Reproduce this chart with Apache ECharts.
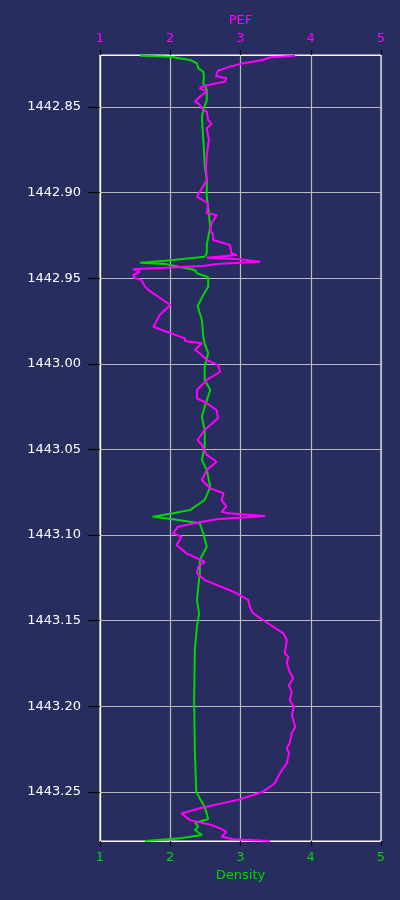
<!DOCTYPE html>
<html>
<head>
<meta charset="utf-8">
<script src="https://cdn.jsdelivr.net/npm/echarts@6/dist/echarts.min.js"></script>
<style>
html, body { margin: 0; padding: 0; background: #272d5e; }
#chart { width: 400px; height: 900px; }
</style>
</head>
<body>
<div id="chart"></div>
<script>
// PEF curve (top axis)
const depthPef = [
    1442.8200, 1442.8209, 1442.8225, 1442.8244, 1442.8264, 1442.8288, 1442.8319, 1442.8332,
    1442.8352, 1442.8365, 1442.8381, 1442.8391, 1442.8410, 1442.8440, 1442.8469, 1442.8478,
    1442.8517, 1442.8527, 1442.8576, 1442.8599, 1442.8624, 1442.8692, 1442.8780, 1442.8856,
    1442.8926, 1442.9024, 1442.9062, 1442.9121, 1442.9131, 1442.9179, 1442.9218, 1442.9247,
    1442.9277, 1442.9306, 1442.9354, 1442.9364, 1442.9380, 1442.9389, 1442.9403, 1442.9417,
    1442.9428, 1442.9448, 1442.9462, 1442.9481, 1442.9500, 1442.9510, 1442.9549, 1442.9569,
    1442.9608, 1442.9656, 1442.9715, 1442.9783, 1442.9802, 1442.9851, 1442.9867, 1442.9880,
    1442.9919, 1442.9938, 1442.9978, 1443.0007, 1443.0046, 1443.0094, 1443.0153, 1443.0201,
    1443.0230, 1443.0270, 1443.0318, 1443.0386, 1443.0445, 1443.0474, 1443.0532, 1443.0572,
    1443.0620, 1443.0678, 1443.0727, 1443.0756, 1443.0795, 1443.0834, 1443.0864, 1443.0873,
    1443.0889, 1443.0908, 1443.0928, 1443.0951, 1443.0990, 1443.1010, 1443.1058, 1443.1107,
    1443.1156, 1443.1185, 1443.1223, 1443.1263, 1443.1331, 1443.1379, 1443.1428, 1443.1457,
    1443.1496, 1443.1574, 1443.1613, 1443.1689, 1443.1712, 1443.1747, 1443.1800, 1443.1837,
    1443.1876, 1443.1917, 1443.1963, 1443.2004, 1443.2051, 1443.2121, 1443.2156, 1443.2215,
    1443.2244, 1443.2275, 1443.2333, 1443.2361, 1443.2392, 1443.2450, 1443.2499, 1443.2544,
    1443.2596, 1443.2626, 1443.2665, 1443.2694, 1443.2713, 1443.2733, 1443.2762, 1443.2777,
    1443.2787
];
const pef = [
    3.78, 3.42, 3.32, 3.04, 2.85, 2.68, 2.65, 2.80,
    2.78, 2.61, 2.45, 2.42, 2.52, 2.42, 2.35, 2.40,
    2.47, 2.52, 2.54, 2.59, 2.52, 2.55, 2.52, 2.51,
    2.52, 2.38, 2.54, 2.52, 2.66, 2.59, 2.57, 2.61,
    2.61, 2.85, 2.87, 2.95, 2.52, 2.99, 3.28, 2.66,
    2.47, 1.47, 1.57, 1.47, 1.50, 1.59, 1.64, 1.69,
    1.83, 2.00, 1.85, 1.76, 1.88, 2.21, 2.21, 2.45,
    2.35, 2.42, 2.52, 2.68, 2.71, 2.52, 2.38, 2.38,
    2.52, 2.66, 2.68, 2.49, 2.39, 2.45, 2.52, 2.66,
    2.52, 2.45, 2.57, 2.76, 2.73, 2.80, 2.73, 2.83,
    3.35, 2.66, 2.38, 2.11, 2.04, 2.16, 2.09, 2.23,
    2.49, 2.40, 2.38, 2.49, 2.90, 3.11, 3.14, 3.18,
    3.32, 3.61, 3.66, 3.63, 3.68, 3.66, 3.70, 3.75,
    3.69, 3.73, 3.70, 3.76, 3.73, 3.78, 3.73, 3.70,
    3.66, 3.69, 3.66, 3.61, 3.56, 3.49, 3.32, 2.99,
    2.42, 2.16, 2.28, 2.59, 2.71, 2.80, 2.73, 2.90,
    3.42
];

// Density curve (bottom axis)
const depthRho = [
    1442.8200, 1442.8206, 1442.8225, 1442.8244, 1442.8274, 1442.8294, 1442.8323, 1442.8361,
    1442.8400, 1442.8459, 1442.8507, 1442.8556, 1442.8624, 1442.8751, 1442.8839, 1442.8926,
    1442.9024, 1442.9199, 1442.9306, 1442.9354, 1442.9374, 1442.9398, 1442.9409, 1442.9417,
    1442.9452, 1442.9471, 1442.9494, 1442.9549, 1442.9598, 1442.9662, 1442.9744, 1442.9841,
    1442.9880, 1442.9938, 1443.0017, 1443.0094, 1443.0153, 1443.0250, 1443.0309, 1443.0386,
    1443.0484, 1443.0562, 1443.0620, 1443.0718, 1443.0795, 1443.0854, 1443.0873, 1443.0893,
    1443.0908, 1443.0931, 1443.0990, 1443.1068, 1443.1146, 1443.1223, 1443.1379, 1443.1457,
    1443.1535, 1443.1671, 1443.1964, 1443.2256, 1443.2499, 1443.2538, 1443.2587, 1443.2626,
    1443.2660, 1443.2680, 1443.2703, 1443.2723, 1443.2752, 1443.2771, 1443.2787
];
const rho = [
    1.57, 2.00, 2.28, 2.38, 2.40, 2.47, 2.48, 2.47,
    2.52, 2.52, 2.48, 2.45, 2.46, 2.48, 2.49, 2.52,
    2.52, 2.57, 2.52, 2.52, 2.49, 1.93, 1.57, 1.93,
    2.35, 2.38, 2.54, 2.54, 2.47, 2.39, 2.45, 2.47,
    2.49, 2.54, 2.49, 2.49, 2.57, 2.49, 2.45, 2.49,
    2.49, 2.45, 2.52, 2.57, 2.49, 2.28, 2.04, 1.75,
    2.04, 2.42, 2.47, 2.52, 2.42, 2.42, 2.38, 2.41,
    2.38, 2.35, 2.34, 2.35, 2.37, 2.42, 2.49, 2.52,
    2.54, 2.35, 2.40, 2.35, 2.45, 2.14, 1.64
];

const depthTicks = [1442.85, 1442.90, 1442.95, 1443.00, 1443.05, 1443.10, 1443.15, 1443.20, 1443.25];
const depthMin = 1442.8196;
const depthMax = 1443.2787;

const gridColor = '#b8b8b8';
const pefColor = '#ff00ff';
const rhoColor = '#00d600';
const font = 'DejaVu Sans';

let myChart = echarts.init(document.getElementById('chart'));

function xAxisCfg(pos, color, name, grid) {
    return {
        type: 'value',
        position: pos,
        min: 1,
        max: 5,
        interval: 1,
        name: name,
        nameLocation: 'middle',
        nameGap: 27,
        nameTextStyle: { color: color, fontSize: 13, fontFamily: font },
        axisLine: { show: true, lineStyle: { color: '#ffffff', width: 1.2 } },
        axisTick: { show: true, length: 5, lineStyle: { color: '#000000', width: 1.2 } },
        axisLabel: { color: color, fontSize: 13, fontFamily: font, margin: 10 },
        splitLine: { show: grid, lineStyle: { color: gridColor, width: 1.2 } }
    };
}

let option = {
    backgroundColor: '#272d5e',
    animation: false,
    grid: {
        left: 100,
        right: 19,
        top: 55,
        bottom: 59,
        show: true,
        borderColor: '#ffffff',
        borderWidth: 1.2
    },
    xAxis: [
        xAxisCfg('bottom', rhoColor, 'Density', true),
        xAxisCfg('top', pefColor, 'PEF', false)
    ],
    yAxis: {
        type: 'value',
        inverse: true,
        min: depthMin,
        max: depthMax,
        axisLine: { show: true, lineStyle: { color: '#ffffff', width: 1.2 } },
        axisTick: {
            show: true,
            length: 12,
            customValues: depthTicks,
            lineStyle: { color: '#000000', width: 1.2 }
        },
        axisLabel: {
            color: '#ffffff',
            fontSize: 13,
            fontFamily: font,
            margin: 19,
            customValues: depthTicks,
            formatter: function (v) { return v.toFixed(2); }
        },
        splitLine: { show: true, lineStyle: { color: gridColor, width: 1.2 } }
    },
    series: [
        {
            type: 'line',
            xAxisIndex: 0,
            symbol: 'none',
            lineStyle: { color: rhoColor, width: 2 },
            data: depthRho.map((d, i) => [rho[i], d])
        },
        {
            type: 'line',
            xAxisIndex: 1,
            symbol: 'none',
            lineStyle: { color: pefColor, width: 2 },
            data: depthPef.map((d, i) => [pef[i], d])
        }
    ]
};

myChart.setOption(option);
</script>
</body>
</html>
